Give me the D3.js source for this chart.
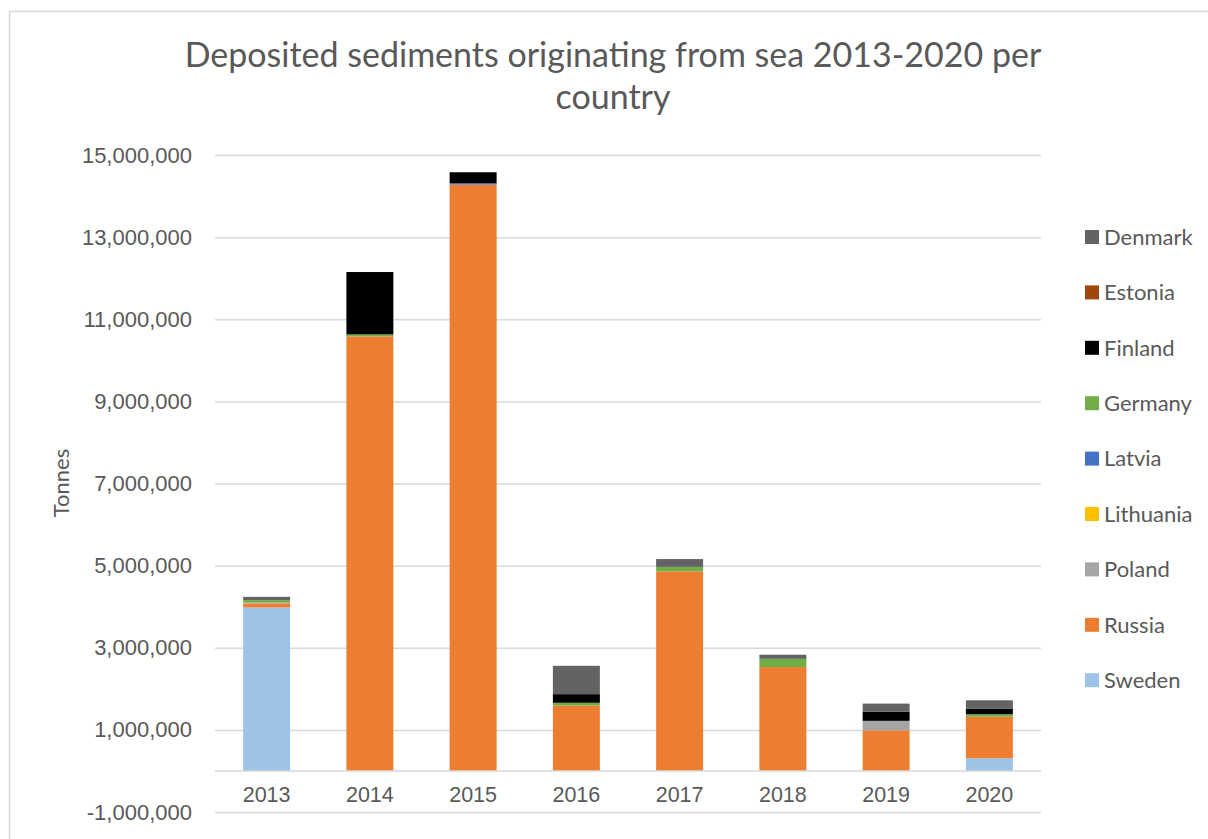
<!DOCTYPE html>
<html>
<head>
<meta charset="utf-8">
<script src="https://cdn.jsdelivr.net/npm/d3@7"></script>
<style>
  html, body { margin: 0; padding: 0; background: #fff; }
  svg { display: block; font-family: Lato, "Open Sans", sans-serif; }
</style>
</head>
<body>
<svg id="chart" width="1208" height="839"></svg>
<script>
// Deposited sediments per country, tonnes
const years = ["2013", "2014", "2015", "2016", "2017", "2018", "2019", "2020"];
const countries = ["Sweden", "Russia", "Poland", "Lithuania", "Latvia", "Germany", "Finland", "Estonia", "Denmark"];

const sweden    = [3980000, 0, 0, 0, 0, 0, 0, 310000];
const russia    = [100000, 10580000, 14280000, 1590000, 4860000, 2530000, 990000, 1010000];
const poland    = [20000, 0, 0, 0, 0, 0, 230000, 0];
const lithuania = [0, 0, 0, 0, 0, 0, 0, 0];
const latvia    = [0, 0, 30000, 0, 0, 0, 0, 0];
const germany   = [60000, 50000, 0, 70000, 110000, 200000, 0, 60000];
const finland   = [0, 1520000, 270000, 210000, 0, 0, 220000, 140000];
const estonia   = [0, 0, 0, 0, 0, 0, 0, 0];
const denmark   = [80000, 0, 0, 690000, 190000, 100000, 200000, 200000];

const yTicks = [-1000000, 1000000, 3000000, 5000000, 7000000, 9000000, 11000000, 13000000, 15000000];
const legendOrder = ["Denmark", "Estonia", "Finland", "Germany", "Latvia", "Lithuania", "Poland", "Russia", "Sweden"];

const seriesValues = {
  Sweden: sweden, Russia: russia, Poland: poland, Lithuania: lithuania, Latvia: latvia,
  Germany: germany, Finland: finland, Estonia: estonia, Denmark: denmark
};
const colors = {
  Denmark: "#636363", Estonia: "#9e480e", Finland: "#000000", Germany: "#70ad47",
  Latvia: "#4472c4", Lithuania: "#ffc000", Poland: "#a5a5a5", Russia: "#ed7d31", Sweden: "#9dc3e6"
};

const rows = years.map((yr, i) => {
  const r = { year: yr };
  countries.forEach(c => r[c] = seriesValues[c][i]);
  return r;
});

const svg = d3.select("#chart");
const textColor = "#595959";
const gridColor = "#d9d9d9";

// outer chart frame
svg.append("rect")
  .attr("x", 9.5).attr("y", 11.5)
  .attr("width", 1300).attr("height", 900)
  .attr("fill", "#fff")
  .attr("stroke", gridColor).attr("stroke-width", 1.5);

const plot = { left: 215, right: 1041, top: 155, bottom: 812 };

const x = d3.scaleBand()
  .domain(years)
  .range([plot.left, plot.right])
  .paddingInner(0.545)
  .paddingOuter(0.2725);

const y = d3.scaleLinear()
  .domain([-1000000, 15000000])
  .range([plot.bottom, plot.top]);

// thousands separators with a plain hyphen for negatives
const fmt = d3.format(",");
const tickFmt = v => fmt(v).replace("\u2212", "-");

// gridlines and value labels
const yAxis = d3.axisLeft(y)
  .tickValues(yTicks)
  .tickFormat(tickFmt)
  .tickSize(-(plot.right - plot.left))
  .tickPadding(23);

const gy = svg.append("g")
  .attr("transform", `translate(${plot.left},0)`)
  .call(yAxis);
gy.select(".domain").remove();
gy.selectAll(".tick line").attr("stroke", gridColor).attr("stroke-width", 1.5);
gy.selectAll(".tick text")
  .attr("fill", textColor)
  .style("font-size", "22px");

// stacked bars
const stack = d3.stack().keys(countries);
const layers = stack(rows);

svg.append("g")
  .selectAll("g")
  .data(layers)
  .join("g")
  .attr("fill", d => colors[d.key])
  .selectAll("rect")
  .data(d => d)
  .join("rect")
  .attr("x", d => x(d.data.year))
  .attr("width", x.bandwidth())
  .attr("y", d => y(d[1]))
  .attr("height", d => Math.max(0, y(d[0]) - y(d[1])));

// category axis at zero
const xAxis = d3.axisBottom(x).tickSize(0).tickPadding(16);
const gx = svg.append("g")
  .attr("transform", `translate(0,${y(0)})`)
  .call(xAxis);
gx.select(".domain")
  .attr("stroke", gridColor).attr("stroke-width", 1.5)
  .attr("d", `M${plot.left},0H${plot.right}`);
gx.selectAll(".tick text")
  .attr("fill", textColor)
  .style("font-size", "21.5px");

// title
const title = svg.append("text")
  .attr("text-anchor", "middle")
  .attr("fill", textColor)
  .style("font-size", "34px");
title.append("tspan").attr("x", 613).attr("y", 67)
  .text("Deposited sediments originating from sea 2013-2020 per");
title.append("tspan").attr("x", 613).attr("y", 109)
  .text("country");

// axis title
svg.append("text")
  .attr("transform", "translate(69,483) rotate(-90)")
  .attr("text-anchor", "middle")
  .attr("fill", textColor)
  .style("font-size", "22px")
  .text("Tonnes");

// legend
const legend = svg.append("g")
  .selectAll("g")
  .data(legendOrder)
  .join("g")
  .attr("transform", (d, i) => `translate(1085,${237 + i * 55.4})`);
legend.append("rect")
  .attr("x", 0).attr("y", -7)
  .attr("width", 14).attr("height", 14)
  .attr("fill", d => colors[d]);
legend.append("text")
  .attr("x", 19).attr("y", 0)
  .attr("dy", "0.35em")
  .attr("fill", textColor)
  .style("font-size", "22px")
  .text(d => d);
</script>
</body>
</html>
